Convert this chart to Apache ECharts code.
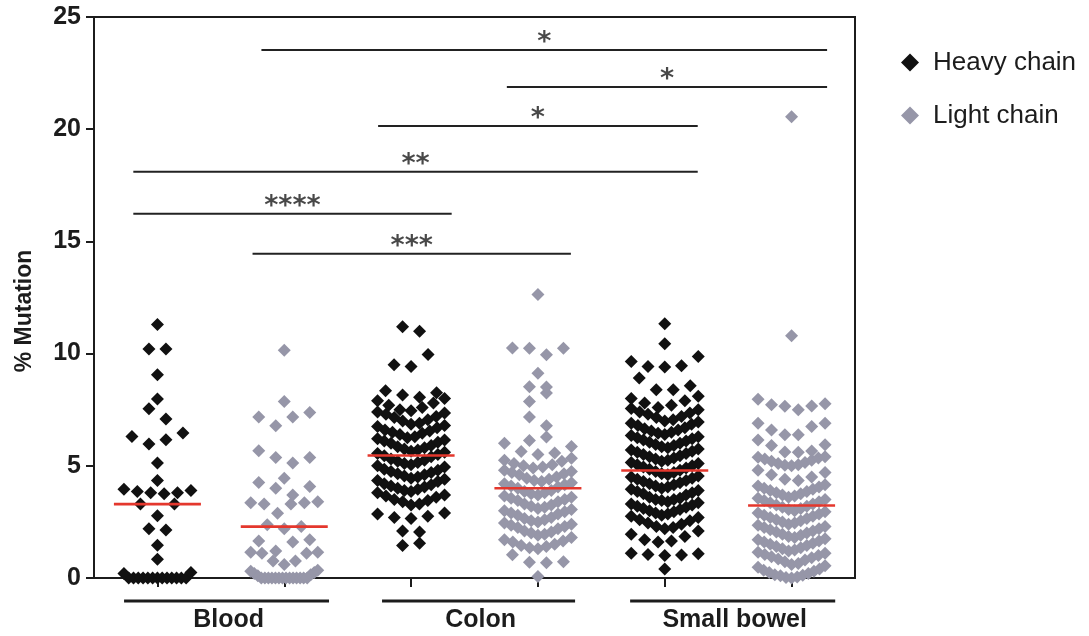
<!DOCTYPE html>
<html>
<head>
<meta charset="utf-8">
<script src="https://cdn.jsdelivr.net/npm/echarts@6/dist/echarts.min.js"></script>
<style>
  html, body { margin: 0; padding: 0; background: #ffffff; }
  #chart { width: 1089px; height: 636px; }
</style>
</head>
<body>
<div id="chart"></div>
<script>
// ---- data -------------------------------------------------------------
const tissues = ['Blood', 'Colon', 'Small bowel'];
const chainNames = ['Heavy chain', 'Light chain'];

// % mutation of each sequence, per tissue and chain
const bloodHeavy = [11.3, 10.2, 10.2, 9.06, 7.98, 7.54, 7.08, 6.46, 6.31, 6.16, 5.97, 5.12, 4.35,
  3.95, 3.9, 3.85, 3.8, 3.8, 3.75, 3.3, 3.3, 2.77, 2.2, 2.14, 1.46, 0.83, 0.25, 0.2,
  0, 0, 0, 0, 0, 0, 0, 0, 0, 0, 0, 0, 0];

const bloodLight = [10.15, 7.87, 7.38, 7.17, 7.17, 6.79, 5.67, 5.37, 5.37, 5.12, 4.45, 4.26, 4.08, 4.0,
  3.7, 3.4, 3.35, 3.35, 3.3, 3.3, 2.89, 2.37, 2.3, 2.2, 1.7, 1.65, 1.6, 1.2, 1.15, 1.15, 1.1, 1.1,
  0.76, 0.76, 0.6, 0.35, 0.3, 0.25, 0.2, 0.15, 0.1,
  0, 0, 0, 0, 0, 0, 0, 0, 0, 0, 0, 0, 0, 0];

const colonHeavy = [11.2, 11.0, 9.96, 9.5, 9.43,
  8.35, 8.25, 8.15, 8.05,
  8.0, 7.9, 7.8, 7.7, 7.6, 7.5, 7.45,
  7.4, 7.35, 7.3, 7.2, 7.15, 7.05, 7.0, 6.9, 6.85,
  6.8, 6.75, 6.7, 6.6, 6.55, 6.5, 6.45, 6.4, 6.3, 6.25,
  6.2, 6.15, 6.1, 6.05, 6.0, 5.9, 5.85, 5.8, 5.75, 5.7, 5.65,
  5.6, 5.55, 5.5, 5.45, 5.4, 5.3, 5.25, 5.2, 5.15, 5.1, 5.05,
  5.0, 4.95, 4.85, 4.8, 4.75, 4.7, 4.65, 4.6, 4.55, 4.5, 4.45,
  4.4, 4.35, 4.3, 4.2, 4.15, 4.1, 4.05, 4.0, 3.95, 3.9, 3.85,
  3.8, 3.7, 3.65, 3.6, 3.5, 3.45, 3.4, 3.3, 3.25,
  2.9, 2.85, 2.75, 2.7, 2.65,
  2.1, 2.05, 1.55, 1.45];

const colonLight = [12.63, 10.25, 10.24, 10.24, 9.95, 9.12, 8.52, 8.51, 8.24, 7.87, 7.17, 6.78, 6.28, 6.13,
  6.01, 5.86, 5.64, 5.57, 5.5,
  5.34, 5.25, 5.2, 5.1, 5.05, 5.0, 4.95, 4.9,
  4.8, 4.75, 4.7, 4.65, 4.6, 4.5, 4.45, 4.4, 4.35, 4.3,
  4.25, 4.2, 4.15, 4.1, 4.05, 4.0, 3.9, 3.85, 3.8, 3.75, 3.7,
  3.65, 3.6, 3.55, 3.5, 3.45, 3.4, 3.3, 3.25, 3.2, 3.15, 3.1,
  3.05, 3.0, 2.95, 2.9, 2.85, 2.8, 2.7, 2.65, 2.6, 2.55, 2.5,
  2.45, 2.4, 2.35, 2.3, 2.25, 2.2, 2.1, 2.05, 2.0, 1.95, 1.9,
  1.8, 1.7, 1.65, 1.6, 1.5, 1.45, 1.4, 1.35, 1.3,
  1.04, 0.72, 0.7, 0.68, 0.07];

const smallBowelHeavy = [11.33, 10.44, 9.87, 9.65, 9.46, 9.43, 9.4, 8.91, 8.57, 8.39, 8.39,
  8.1, 8.0, 7.9, 7.8, 7.7, 7.6,
  7.55, 7.5, 7.4, 7.35, 7.3, 7.2, 7.15, 7.05, 7.0,
  6.95, 6.9, 6.85, 6.8, 6.7, 6.65, 6.6, 6.55, 6.5, 6.45, 6.4,
  6.35, 6.3, 6.25, 6.2, 6.15, 6.1, 6.05, 6.0, 5.95, 5.9, 5.85, 5.8,
  5.75, 5.7, 5.65, 5.6, 5.55, 5.5, 5.45, 5.4, 5.35, 5.3, 5.25, 5.2,
  5.15, 5.1, 5.05, 5.0, 4.95, 4.9, 4.85, 4.8, 4.75, 4.7, 4.65, 4.6,
  4.55, 4.5, 4.45, 4.4, 4.35, 4.3, 4.25, 4.2, 4.15, 4.1, 4.05, 4.0,
  3.95, 3.9, 3.85, 3.8, 3.75, 3.7, 3.6, 3.55, 3.5, 3.5, 3.45, 3.4,
  3.35, 3.3, 3.25, 3.2, 3.15, 3.1, 3.05, 3.0, 2.95, 2.9, 2.85, 2.8,
  2.75, 2.7, 2.6, 2.55, 2.45, 2.4, 2.3, 2.25, 2.2,
  2.1, 1.95, 1.85, 1.7, 1.65, 1.6,
  1.1, 1.08, 1.05, 1.03, 1.0, 0.4];

const smallBowelLight = [20.55, 10.79,
  7.97, 7.77, 7.72, 7.67, 7.65, 7.5,
  6.9, 6.9, 6.75, 6.6, 6.38, 6.38,
  6.15, 5.94, 5.9, 5.66, 5.62, 5.6,
  5.4, 5.38, 5.35, 5.3, 5.25, 5.2, 5.15, 5.1, 5.05, 5.02, 5.0,
  4.8, 4.7, 4.6, 4.5, 4.4, 4.35,
  4.15, 4.1, 4.05, 4.0, 3.95, 3.9, 3.85, 3.8, 3.75, 3.7, 3.65, 3.6,
  3.55, 3.5, 3.45, 3.4, 3.35, 3.3, 3.25, 3.2, 3.15, 3.1, 3.05, 3.0,
  2.95, 2.9, 2.85, 2.8, 2.75, 2.7, 2.65, 2.6, 2.55, 2.5, 2.45, 2.4,
  2.35, 2.3, 2.25, 2.2, 2.15, 2.1, 2.05, 2.0, 1.95, 1.9, 1.85, 1.8,
  1.75, 1.7, 1.65, 1.6, 1.55, 1.5, 1.45, 1.4, 1.35, 1.3, 1.25, 1.2,
  1.15, 1.1, 1.05, 1.0, 0.95, 0.9, 0.85, 0.8, 0.72, 0.65, 0.6,
  0.55, 0.48, 0.4, 0.35, 0.3, 0.25, 0.2, 0.15, 0.12, 0.1, 0.05, 0.02, 0];

// group means (red bars), in column order
const meanValues = [3.29, 2.29, 5.46, 4.0, 4.79, 3.23];

// pairwise comparisons: bar level, span (column units) and significance stars
const sigLevels = [23.53, 21.88, 20.14, 18.1, 16.23, 14.45];
const sigFrom = [1.82, 3.755, 2.74, 0.81, 0.81, 1.75];
const sigTo = [6.28, 6.28, 5.26, 5.26, 3.32, 4.26];
const sigStars = ['*', '*', '*', '**', '****', '***'];

// tissue brackets under the axis (column units)
const bracketFrom = [0.737, 2.771, 4.727];
const bracketTo = [2.353, 4.293, 6.344];

// columns: tissue x chain
const columns = [
  { values: bloodHeavy, chain: 0 },
  { values: bloodLight, chain: 1 },
  { values: colonHeavy, chain: 0 },
  { values: colonLight, chain: 1 },
  { values: smallBowelHeavy, chain: 0 },
  { values: smallBowelLight, chain: 1 }
];

// ---- layout -----------------------------------------------------------
const W = 1089, H = 636;
const GRID = { left: 94, right: 234, top: 17, bottom: 58 };
const PX_PER_COL = (W - GRID.left - GRID.right) / 6;
const ROW_SPAN = 0.6;     // value range that shares one row of the swarm
const MAX_GAP = 17;       // px between neighbours in a sparse row
const MAX_WIDTH = 67;     // px, widest row (centre to centre)
const FONT = "'Liberation Sans', Arial, Helvetica, sans-serif";
const INK = '#1c1c1c';
const HEAVY_COLOR = '#111111';
const LIGHT_COLOR = '#9696a8';
const MEAN_COLOR = '#e4372d';

// Column scatter: values are grouped into rows, each row is spread
// symmetrically around the column centre, lowest values in the middle.
function swarm(values, centre) {
  const sorted = values.slice().sort((a, b) => a - b);
  const rows = [];
  let row = null;
  for (const v of sorted) {
    if (!row || v >= row.start + ROW_SPAN - 1e-9) {
      row = { start: v, items: [] };
      rows.push(row);
    }
    row.items.push(v);
  }
  const pts = [];
  rows.forEach((r, ri) => {
    const n = r.items.length;
    const gap = n > 1 ? Math.min(MAX_GAP, MAX_WIDTH / (n - 1)) : 0;
    const slots = [];
    for (let k = 0; k < n; k++) slots.push((k - (n - 1) / 2) * gap);
    slots.sort((a, b) => (Math.abs(a) - Math.abs(b)) || (ri % 2 ? b - a : a - b));
    r.items.forEach((v, k) => pts.push([centre + slots[k] / PX_PER_COL, v]));
  });
  return pts;
}

const heavyPts = [], lightPts = [];
columns.forEach((c, i) => {
  const pts = swarm(c.values, i + 1);
  (c.chain === 0 ? heavyPts : lightPts).push(...pts);
});

const series = [
  {
    name: chainNames[0], type: 'scatter', xAxisIndex: 0, data: heavyPts,
    symbol: 'diamond', symbolSize: 13, clip: false, z: 3,
    itemStyle: { color: HEAVY_COLOR, opacity: 1 }
  },
  {
    name: chainNames[1], type: 'scatter', xAxisIndex: 0, data: lightPts,
    symbol: 'diamond', symbolSize: 13, clip: false, z: 3,
    itemStyle: { color: LIGHT_COLOR, opacity: 1 }
  }
];

// mean bars
meanValues.forEach((m, i) => {
  series.push({
    type: 'line', xAxisIndex: 0, silent: true, symbol: 'none', z: 6,
    data: [[i + 1 - 0.343, m], [i + 1 + 0.343, m]],
    lineStyle: { color: MEAN_COLOR, width: 2.6 }
  });
});

// significance bars
sigLevels.forEach((lv, i) => {
  series.push({
    type: 'line', xAxisIndex: 0, silent: true, symbol: 'none', z: 4,
    data: [[sigFrom[i], lv], [sigTo[i], lv]],
    lineStyle: { color: '#222222', width: 2 }
  });
});
series.push({
  type: 'scatter', xAxisIndex: 0, silent: true, symbol: 'circle', symbolSize: 1, z: 4,
  itemStyle: { color: 'rgba(0,0,0,0)' },
  data: sigLevels.map((lv, i) => ({ value: [(sigFrom[i] + sigTo[i]) / 2, lv + 0.3], star: sigStars[i] })),
  label: {
    show: true, position: 'inside',
    formatter: p => p.data.star,
    fontFamily: "'DejaVu Sans', sans-serif", fontWeight: 'bold', fontSize: 27, color: '#1a1a1a'
  }
});

const chart = echarts.init(document.getElementById('chart'), null, { renderer: 'canvas' });
chart.setOption({
  animation: false,
  backgroundColor: '#ffffff',
  grid: {
    left: GRID.left, right: GRID.right, top: GRID.top, bottom: GRID.bottom,
    show: true, borderColor: INK, borderWidth: 2, backgroundColor: 'transparent'
  },
  legend: {
    data: chainNames,
    orient: 'vertical', left: 896, top: 43,
    itemWidth: 18, itemHeight: 18, itemGap: 24,
    textStyle: { fontFamily: FONT, fontSize: 26, color: INK, lineHeight: 29, padding: [0, 0, 0, 9] }
  },
  xAxis: [
    { type: 'value', min: 0.5, max: 6.5, show: false },
    {
      type: 'category', position: 'bottom', boundaryGap: true,
      data: ['', '', '', '', '', ''],
      axisLine: { show: true, lineStyle: { color: INK, width: 2 } },
      axisTick: { show: true, alignWithLabel: true, length: 9, lineStyle: { color: INK, width: 2 } },
      axisLabel: { show: false },
      splitLine: { show: false }
    }
  ],
  yAxis: {
    type: 'value', min: 0, max: 25, interval: 5,
    axisLine: { show: true, lineStyle: { color: INK, width: 2 } },
    axisTick: { show: true, length: 8, lineStyle: { color: INK, width: 2 } },
    axisLabel: { fontFamily: FONT, fontSize: 25, fontWeight: 'bold', color: INK, margin: 13 },
    splitLine: { show: false }
  },
  series: series
});

// tissue brackets, tissue names and the value axis title
const graphics = [];
tissues.forEach((name, i) => {
  const x1 = chart.convertToPixel({ xAxisIndex: 0 }, bracketFrom[i]);
  const x2 = chart.convertToPixel({ xAxisIndex: 0 }, bracketTo[i]);
  graphics.push({
    type: 'line', silent: true,
    shape: { x1: x1, y1: 601, x2: x2, y2: 601 },
    style: { stroke: INK, lineWidth: 3 }
  });
  graphics.push({
    type: 'text', silent: true, x: (x1 + x2) / 2 + 2, y: 620,
    style: {
      text: name, fill: INK, fontFamily: FONT, fontSize: 25, fontWeight: 'bold',
      align: 'center', verticalAlign: 'middle', textAlign: 'center', textVerticalAlign: 'middle'
    }
  });
});
graphics.push({
  type: 'text', silent: true, x: 25, y: 311, rotation: Math.PI / 2,
  style: {
    text: '% Mutation', fill: INK, fontFamily: FONT, fontSize: 23, fontWeight: 'bold',
    align: 'center', verticalAlign: 'middle', textAlign: 'center', textVerticalAlign: 'middle'
  }
});
chart.setOption({ graphic: graphics });
</script>
</body>
</html>
